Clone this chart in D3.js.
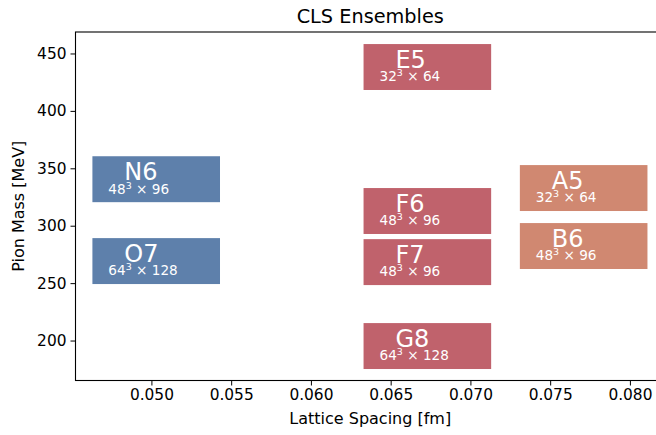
<!DOCTYPE html>
<html><head><meta charset="utf-8">
<script src="https://cdn.jsdelivr.net/npm/d3@7"></script>
<style>body{margin:0;background:#fff}svg{display:block}text{font-family:"DejaVu Sans",sans-serif}</style>
</head><body><svg id="c" width="656" height="435"></svg>
<script>
const names = ["N6","O7","E5","F6","F7","G8","A5","B6"];
const spacing = [0.0503,0.0503,0.0673,0.0673,0.0673,0.0673,0.0771,0.0771];
const pionMass = [340.5,269.2,438.2,312.8,268.3,195.2,332.8,282.3];
const volumes = [["48","96"],["64","128"],["32","64"],["48","96"],["48","96"],["64","128"],["32","64"],["48","96"]];
const groups = ["blue","blue","red","red","red","red","orange","orange"];
const xTicks = [0.050,0.055,0.060,0.065,0.070,0.075,0.080];
const yTicks = [200,250,300,350,400,450];
const colors = {blue:"#5e80ab", red:"#c0626c", orange:"#d08871"};

const svg = d3.select("#c");
const L=75.5, T=32, R=665, B=380.5;
const x = d3.scaleLinear().domain([0.04524,0.0822]).range([L,R]);
const y = d3.scaleLinear().domain([165.2,468.7]).range([B,T]);
const hw = 0.004, hh = 20;

const g = svg.append("g");
names.forEach((n,i)=>{
  const c = spacing[i], m = pionMass[i];
  g.append("rect").attr("x",x(c-hw)).attr("y",y(m+hh))
    .attr("width",x(c+hw)-x(c-hw)).attr("height",y(m-hh)-y(m+hh))
    .attr("fill",colors[groups[i]]);
  g.append("text").attr("x",x(c-0.002)).attr("y",y(m-0.8))
    .attr("fill","#fff").attr("font-size",24).text(n);
  const t = g.append("text").attr("x",x(c-0.003)).attr("y",y(m-12.5))
    .attr("fill","#fff").attr("font-size",13.6);
  t.append("tspan").text(volumes[i][0]);
  t.append("tspan").attr("dy",-5).attr("font-size",9.5).text("3");
  t.append("tspan").attr("dy",5).text(" \u00d7 "+volumes[i][1]);
});

const xa = svg.append("g").attr("transform",`translate(0,${B})`)
  .call(d3.axisBottom(x).tickValues(xTicks).tickFormat(d3.format(".3f")).tickSizeInner(5).tickSizeOuter(0).tickPadding(4));
const ya = svg.append("g").attr("transform",`translate(${L},0)`)
  .call(d3.axisLeft(y).tickValues(yTicks).tickFormat(d3.format("d")).tickSizeInner(5).tickSizeOuter(0).tickPadding(4));
[xa,ya].forEach(a=>{
  a.selectAll("text").attr("font-size",15.4).attr("font-family","DejaVu Sans").attr("fill","#000");
  a.selectAll("line").attr("stroke","#000").attr("stroke-width",1);
  a.select(".domain").remove();
});
svg.append("rect").attr("x",L).attr("y",T).attr("width",R-L).attr("height",B-T)
  .attr("fill","none").attr("stroke","#000").attr("stroke-width",1.1);

svg.append("text").attr("x",(L+R)/2).attr("y",23).attr("text-anchor","middle")
  .attr("font-size",19.3).text("CLS Ensembles");
svg.append("text").attr("x",(L+R)/2).attr("y",424).attr("text-anchor","middle")
  .attr("font-size",16).text("Lattice Spacing [fm]");
svg.append("text").attr("transform",`translate(24,${(T+B)/2}) rotate(-90)`).attr("text-anchor","middle")
  .attr("font-size",16).text("Pion Mass [MeV]");
</script></body></html>
